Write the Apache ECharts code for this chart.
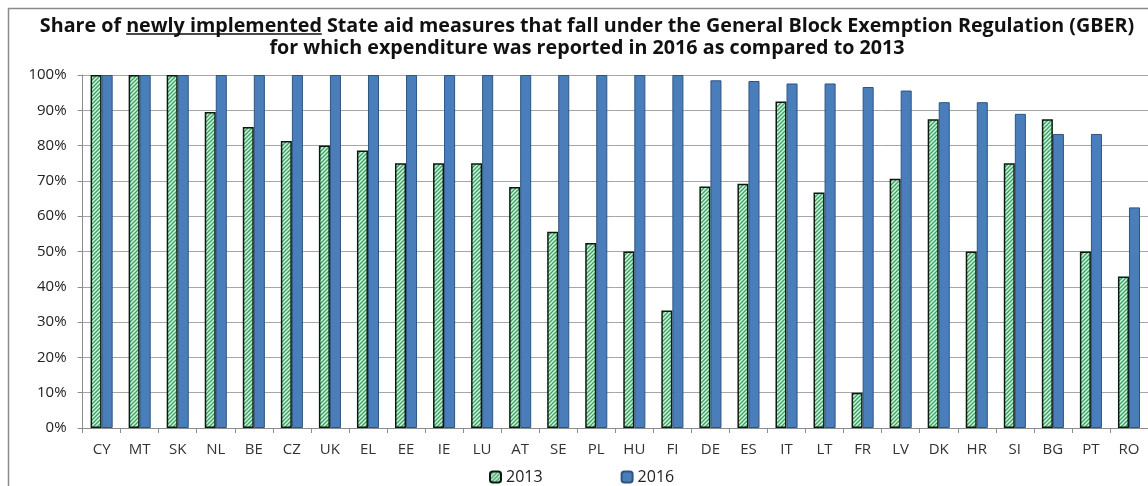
<!DOCTYPE html>
<html>
<head>
<meta charset="utf-8">
<script src="https://cdn.jsdelivr.net/npm/echarts@6/dist/echarts.min.js"></script>
<style>
  html, body { margin: 0; padding: 0; background: #fff; }
  #chart { width: 1148px; height: 486px; }
</style>
</head>
<body>
<div id="chart"></div>
<script>
// data
var countries = ['CY','MT','SK','NL','BE','CZ','UK','EL','EE','IE','LU','AT','SE','PL','HU','FI','DE','ES','IT','LT','FR','LV','DK','HR','SI','BG','PT','RO'];
var share2013 = [100,100,100,89.5,85.3,81.3,80,78.6,75,75,75,68.3,55.6,52.4,50,33.3,68.4,69.2,92.5,66.7,10,70.6,87.5,50,75,87.5,50,42.9];
var share2016 = [100,100,100,100,100,100,100,100,100,100,100,100,100,100,100,100,98.5,98.3,97.6,97.6,96.6,95.6,92.3,92.3,89,83.3,83.3,62.5];
var yTicks = [0,10,20,30,40,50,60,70,80,90,100];

var titlePre = 'Share of ';
var titleUnder = 'newly implemented';
var titlePost = ' State aid measures that fall under the General Block Exemption Regulation (GBER)';
var titleLine2 = 'for which expenditure was reported in 2016 as compared to 2013';

// hatched fill for 2013
function makeHatch() {
    var c = document.createElement('canvas');
    c.width = 4; c.height = 4;
    var g = c.getContext('2d');
    g.fillStyle = '#d3f3dc';
    g.fillRect(0, 0, 4, 4);
    g.strokeStyle = '#35a361';
    g.lineWidth = 1.3;
    g.beginPath();
    g.moveTo(-1, 5); g.lineTo(5, -1);
    g.moveTo(-1, 1); g.lineTo(1, -1);
    g.moveTo(3, 5); g.lineTo(5, 3);
    g.stroke();
    return c;
}
var hatch = { image: makeHatch(), repeat: 'repeat' };

var fontFam = '"Open Sans", "DejaVu Sans", sans-serif';
var titleSize = 19.7;
var titleCenter = 587;

// measure the title so the underline sits under the right words
var mctx = document.createElement('canvas').getContext('2d');
mctx.font = 'bold ' + titleSize + 'px ' + fontFam;
var wAll = mctx.measureText(titlePre + titleUnder + titlePost).width;
var wPre = mctx.measureText(titlePre).width;
var wUnder = mctx.measureText(titleUnder).width;
var ulX = titleCenter - wAll / 2 + wPre;

var chart = echarts.init(document.getElementById('chart'));

var option = {
    backgroundColor: '#fff',
    animation: false,
    title: {
        text: titlePre + titleUnder + titlePost + '\n' + titleLine2,
        left: titleCenter,
        textAlign: 'center',
        top: 15,
        padding: 0,
        textStyle: {
            fontFamily: fontFam,
            fontWeight: 'bold',
            fontSize: titleSize,
            lineHeight: 22,
            color: '#111'
        }
    },
    legend: {
        left: 489,
        top: 469,
        padding: 0,
        itemWidth: 11,
        itemHeight: 11,
        itemGap: 78,
        textStyle: { fontFamily: fontFam, fontSize: 16, color: '#222' },
        data: ['2013', '2016']
    },
    grid: {
        left: 82.6,
        right: -3,
        top: 75,
        bottom: 58,
        containLabel: false
    },
    xAxis: {
        type: 'category',
        data: countries,
        axisLine: { lineStyle: { color: '#8c8c8c', width: 1 } },
        axisTick: { show: true, length: 5, interval: 0, lineStyle: { color: '#8c8c8c' } },
        axisLabel: { interval: 0, margin: 14, fontFamily: fontFam, fontSize: 15, color: '#333' }
    },
    yAxis: {
        type: 'value',
        min: yTicks[0],
        max: yTicks[yTicks.length - 1],
        interval: yTicks[1] - yTicks[0],
        axisLine: { show: true, lineStyle: { color: '#8c8c8c', width: 1 } },
        axisTick: { show: true, length: 5, lineStyle: { color: '#8c8c8c' } },
        axisLabel: { formatter: '{value}%', margin: 16, fontFamily: fontFam, fontSize: 15, color: '#222' },
        splitLine: { lineStyle: { color: '#a6a6a6', width: 1 } }
    },
    series: [
        {
            name: '2013',
            type: 'bar',
            data: share2013,
            barWidth: '29%',
            barGap: '0%',
            itemStyle: { color: hatch, borderColor: '#0b1a10', borderWidth: 1.5 }
        },
        {
            name: '2016',
            type: 'bar',
            data: share2016,
            barWidth: '29%',
            itemStyle: { color: '#4a7ebb', borderColor: '#2f5480', borderWidth: 1 }
        }
    ],
    graphic: [
        {
            type: 'rect',
            silent: true,
            shape: { x: 8.5, y: 8.5, width: 1200, height: 600 },
            style: { fill: null, stroke: '#8a8a8a', lineWidth: 1.5 }
        },
        {
            type: 'line',
            silent: true,
            shape: { x1: ulX, y1: 34, x2: ulX + wUnder, y2: 34 },
            style: { stroke: '#111', lineWidth: 1.4 }
        }
    ]
};

chart.setOption(option, true);
</script>
</body>
</html>
